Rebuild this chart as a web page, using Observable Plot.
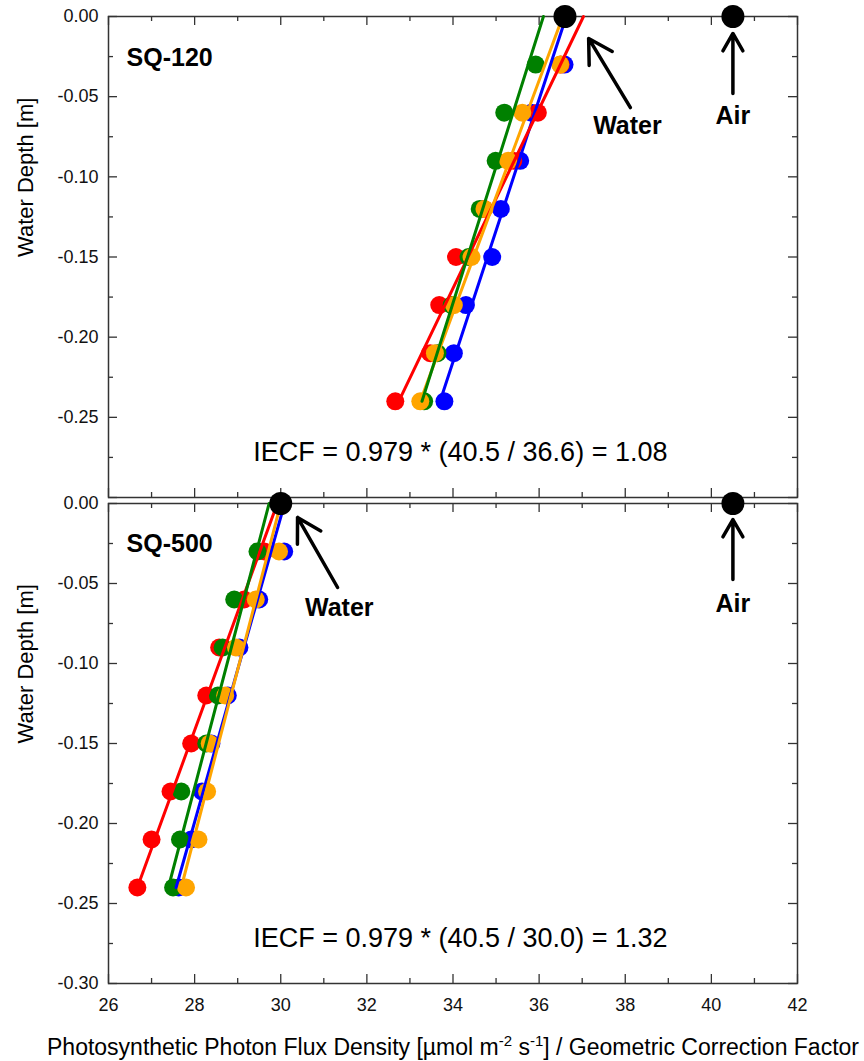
<!DOCTYPE html>
<html><head><meta charset="utf-8">
<script src="https://cdn.jsdelivr.net/npm/d3@7"></script>
<script src="https://cdn.jsdelivr.net/npm/@observablehq/plot@0.6"></script>
<style>
body{margin:0;background:#fff;font-family:"Liberation Sans",Arial,sans-serif}
#wrap{position:relative;width:864px;height:1061px;overflow:hidden}
#top,#bottom{position:absolute;left:0}
#top{top:0}
#bottom{top:500px}
svg{overflow:visible}
</style></head><body>
<div id="wrap"><div id="top"></div><div id="bottom"></div></div>
<script>
// ---------- data ----------
const depths = [-0.03, -0.06, -0.09, -0.12, -0.15, -0.18, -0.21, -0.24];
const seriesKeys = ["blue", "red", "green", "orange"];
const seriesColors = ["#0000ff", "#ff0000", "#008000", "#ff8800"];

// SQ-120 panel (PPFD / GCF at each depth)
const sq120Blue   = [36.59, 35.82, 35.56, 35.11, 34.91, 34.30, 34.02, 33.80];
const sq120Red    = [36.50, 35.97, 35.40, 34.72, 34.07, 33.68, 33.47, 32.66];
const sq120Green  = [35.92, 35.19, 34.99, 34.62, 34.36, 33.97, 33.64, 33.33];
const sq120Orange = [36.49, 35.61, 35.28, 34.73, 34.43, 34.02, 33.58, 33.24];
// fitted line ends: [value at -0.24 m, value at 0 m]
const lineDepths = [-0.24, 0];
const sq120FitBlue   = [33.70, 36.63];
const sq120FitRed    = [32.74, 37.03];
const sq120FitOrange = [33.24, 36.55];
const sq120FitGreen  = [33.28, 36.10];

// SQ-500 panel
const sq500Blue   = [30.08, 29.50, 29.04, 28.77, 28.39, 28.17, 27.92, 27.63];
const sq500Red    = [29.62, 29.15, 28.57, 28.27, 27.92, 27.44, 27.00, 26.67];
const sq500Green  = [29.46, 28.92, 28.65, 28.54, 28.27, 27.69, 27.66, 27.50];
const sq500Orange = [29.96, 29.42, 28.96, 28.71, 28.35, 28.29, 28.09, 27.80];
const sq500FitBlue   = [27.57, 30.09];
const sq500FitRed    = [26.67, 29.92];
const sq500FitOrange = [27.69, 30.00];
const sq500FitGreen  = [27.39, 29.73];

// reference values (black dots) at the surface
const airValue = 40.5;
const sq120Water = 36.6;
const sq500Water = 30.0;
const iecfFactor = 0.979;

// axis ticks
const xMajorTicks = [26, 28, 30, 32, 34, 36, 38, 40, 42];
const xMinorTicks = [27, 29, 31, 33, 35, 37, 39, 41];
const yMajorTicks = [0, -0.05, -0.10, -0.15, -0.20, -0.25, -0.30];
const yMinorTicks = [-0.025, -0.075, -0.125, -0.175, -0.225, -0.275];
const yLabelsTop = [0, -0.05, -0.10, -0.15, -0.20, -0.25];
const yLabelsBottom = [0, -0.05, -0.10, -0.15, -0.20, -0.25, -0.30];

// ---------- tables ----------
function pointsTable(cols) {
  const rows = [];
  seriesKeys.forEach((s, i) => cols[i].forEach((v, j) => rows.push({series: s, depth: depths[j], ppfd: v})));
  return rows;
}
function fitTable(fits) { // order of drawing: blue, red, orange, green
  const order = ["blue", "red", "orange", "green"];
  const rows = [];
  order.forEach((s, i) => fits[i].forEach((v, j) => rows.push({series: s, depth: lineDepths[j], ppfd: v})));
  return rows;
}

const panels = [
  {
    name: "SQ-120", el: "#top", height: 500, mt: 16, mb: 3,
    points: pointsTable([sq120Blue, sq120Red, sq120Green, sq120Orange]),
    fits: fitTable([sq120FitBlue, sq120FitRed, sq120FitOrange, sq120FitGreen]),
    water: sq120Water, yLabels: yLabelsTop, xAxis: false,
    // annotation anchors (data space)
    nameAt: [26.42, -0.026],
    waterText: [38.05, -0.068], airText: [40.5, -0.062],
    waterArrow: [38.12, -0.0568, 37.15, -0.0137],
    airArrow: [40.5, -0.048, 40.5, -0.0106],
    iecfAt: [34.17, -0.272]
  },
  {
    name: "SQ-500", el: "#bottom", height: 561, mt: 3, mb: 78,
    points: pointsTable([sq500Blue, sq500Red, sq500Green, sq500Orange]),
    fits: fitTable([sq500FitBlue, sq500FitRed, sq500FitOrange, sq500FitGreen]),
    water: sq500Water, yLabels: yLabelsBottom, xAxis: true,
    nameAt: [26.42, -0.0256],
    waterText: [31.36, -0.065], airText: [40.5, -0.0625],
    waterArrow: [31.32, -0.0525, 30.39, -0.0087],
    airArrow: [40.5, -0.0475, 40.5, -0.010],
    iecfAt: [34.17, -0.272]
  }
];

const FONT = '"Liberation Sans", Arial, sans-serif';
const AX = "#333";

function draw(p) {
  const fh = p.height - p.mt - p.mb;
  const fw = 864 - 108 - 67;
  const iecf = (iecfFactor * airValue / p.water).toFixed(2);
  const iecfText = `IECF = ${iecfFactor} * (${airValue.toFixed(1)} / ${p.water.toFixed(1)}) = ${iecf}`;
  const marks = [
    Plot.frame({stroke: AX, strokeWidth: 1.5}),
    // inward ticks on all four sides
    Plot.tickX(xMajorTicks, {x: d => d, insetTop: fh - 9, stroke: AX, strokeWidth: 1.3}),
    Plot.tickX(xMajorTicks, {x: d => d, insetBottom: fh - 9, stroke: AX, strokeWidth: 1.3}),
    Plot.tickX(xMinorTicks, {x: d => d, insetTop: fh - 5, stroke: AX, strokeWidth: 1.3}),
    Plot.tickX(xMinorTicks, {x: d => d, insetBottom: fh - 5, stroke: AX, strokeWidth: 1.3}),
    Plot.tickY(yMajorTicks, {y: d => d, insetRight: fw - 9, stroke: AX, strokeWidth: 1.3}),
    Plot.tickY(yMajorTicks, {y: d => d, insetLeft: fw - 9, stroke: AX, strokeWidth: 1.3}),
    Plot.tickY(yMinorTicks, {y: d => d, insetRight: fw - 5, stroke: AX, strokeWidth: 1.3}),
    Plot.tickY(yMinorTicks, {y: d => d, insetLeft: fw - 5, stroke: AX, strokeWidth: 1.3}),
    Plot.axisY(p.yLabels, {tickSize: 0, tickPadding: 10, fontSize: 18, label: null, tickFormat: d => d.toFixed(2), fill: "#111"}),
    // data
    Plot.dot(p.points, {x: "ppfd", y: "depth", fill: "series", r: 9}),
    Plot.line(p.fits, {x: "ppfd", y: "depth", z: "series", stroke: "series", strokeWidth: 3}),
    Plot.dot([{v: p.water, d: 0}, {v: airValue, d: 0}], {x: "v", y: "d", fill: "black", r: 11.5}),
    // annotations
    Plot.arrow([p.waterArrow, p.airArrow], {x1: d => d[0], y1: d => d[1], x2: d => d[2], y2: d => d[3], stroke: "black", strokeWidth: 3.5, headLength: 16, headAngle: 60}),
    Plot.text([p.name], {x: p.nameAt[0], y: p.nameAt[1], textAnchor: "start", fontSize: 25, fontWeight: "bold", fill: "#000"}),
    Plot.text(["Water"], {x: p.waterText[0], y: p.waterText[1], fontSize: 25, fontWeight: "bold", fill: "#000"}),
    Plot.text(["Air"], {x: p.airText[0], y: p.airText[1], fontSize: 25, fontWeight: "bold", fill: "#000"}),
    Plot.text([iecfText], {x: p.iecfAt[0], y: p.iecfAt[1], fontSize: 27, fill: "#000"}),
    Plot.text(["Water Depth [m]"], {frameAnchor: "left", dx: -83, rotate: -90, fontSize: 22, fill: "#000"})
  ];
  if (p.xAxis) {
    marks.push(Plot.axisX(xMajorTicks, {tickSize: 0, tickPadding: 15, fontSize: 18, label: null, fill: "#111"}));
    marks.push(Plot.text(["Photosynthetic Photon Flux Density [µmol m-2 s-1] / Geometric Correction Factor"],
      {frameAnchor: "bottom", lineAnchor: "middle", dy: 64, fontSize: 23, fill: "#000"}));
  }
  const svg = Plot.plot({
    width: 864, height: p.height,
    marginLeft: 108, marginRight: 67, marginTop: p.mt, marginBottom: p.mb,
    x: {domain: [26, 42], axis: null},
    y: {domain: [-0.30, 0], axis: null},
    color: {domain: seriesKeys, range: seriesColors},
    style: {fontFamily: FONT, overflow: "visible", background: "none"},
    marks
  });
  // superscripts in the x-axis title
  d3.select(svg).selectAll("text").filter(function () {
    return this.textContent.startsWith("Photosynthetic");
  }).each(function () {
    const t = d3.select(this);
    t.text("");
    t.append("tspan").text("Photosynthetic Photon Flux Density [µmol m");
    t.append("tspan").attr("dy", -9).attr("font-size", 15).text("-2");
    t.append("tspan").attr("dy", 9).text(" s");
    t.append("tspan").attr("dy", -9).attr("font-size", 15).text("-1");
    t.append("tspan").attr("dy", 9).text("] / Geometric Correction Factor");
  });
  document.querySelector(p.el).appendChild(svg);
}
panels.forEach(draw);
</script>
</body></html>
